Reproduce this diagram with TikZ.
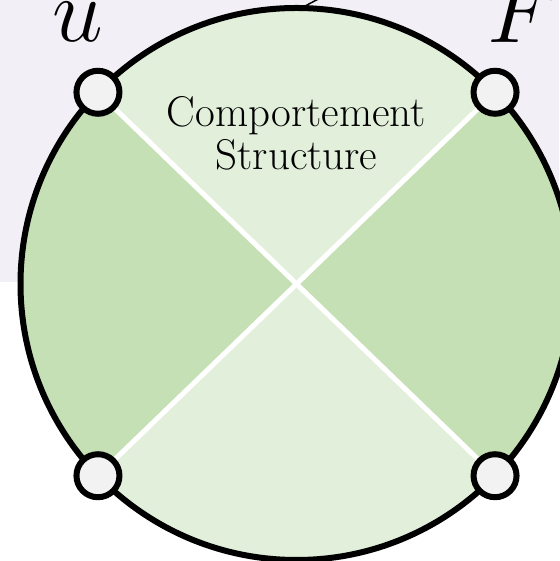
\documentclass[tikz,border=0pt]{standalone}
\usepackage{tikz}
\usetikzlibrary{calc, positioning}
\definecolor{PaleLilac}{HTML}{F2EFF6}
\definecolor{LeafLight}{HTML}{E2EFDA}
\definecolor{LeafDark}{HTML}{C5E0B4}
\definecolor{PortGray}{HTML}{F2F2F2}

\begin{document}
\begin{tikzpicture}[
    x=1pt, y=1pt,
    port/.style={circle, draw=black, fill=PortGray, line width=6pt, minimum size=43pt, inner sep=0pt},
    rim/.style={draw=black, line width=6pt},
    split/.style={draw=white, line width=5pt},
    caption/.style={font=\fontsize{43}{43}\selectfont, align=center},
    sym/.style={font=\Huge, scale=3.66, transform shape, anchor=base, inner sep=0pt}
]
    \useasboundingbox (0,0) rectangle (559,561);
    % Backdrop
    \fill[PaleLilac] (0,279) rectangle (559,561);

    % Disc and quadrants
    \def\rad{276}
    \coordinate (o) at (296.5,277);
    \coordinate (cu) at ($(o)+(136:\rad)$);
    \coordinate (cf) at ($(o)+(44:\rad)$);
    \coordinate (cbl) at ($(o)+(224:\rad)$);
    \coordinate (cbr) at ($(o)+(316:\rad)$);
    \fill[LeafLight] (o) -- (cf) arc[start angle=44, end angle=136, radius=\rad] -- cycle;
    \fill[LeafDark] (o) -- (cu) arc[start angle=136, end angle=224, radius=\rad] -- cycle;
    \fill[LeafLight] (o) -- (cbl) arc[start angle=224, end angle=316, radius=\rad] -- cycle;
    \fill[LeafDark] (o) -- (cbr) arc[start angle=-44, end angle=44, radius=\rad] -- cycle;
    \draw[split] (cu) -- (cbr);
    \draw[split] (cf) -- (cbl);

    % Link leaving the top
    \coordinate (top) at ($(o)+(89:\rad)$);
    \coordinate (away) at ($(top)+(28:40)$);
    \draw[line width=1.5pt] (top) -- (away);

    \draw[rim] (o) circle[radius=\rad];

    % Ports
    \node[port] (pu) at (cu) {};
    \node[port] (pf) at (cf) {};
    \node[port] (pbl) at (cbl) {};
    \node[port] (pbr) at (cbr) {};

    % Texts
    \node[caption] (title) at (296.5,428) {Comportement\\Structure};
    \node[sym] (lu) at (78,519) {$u$};
    \node[sym] (lf) at (523,518) {$F$};
\end{tikzpicture}
\end{document}
